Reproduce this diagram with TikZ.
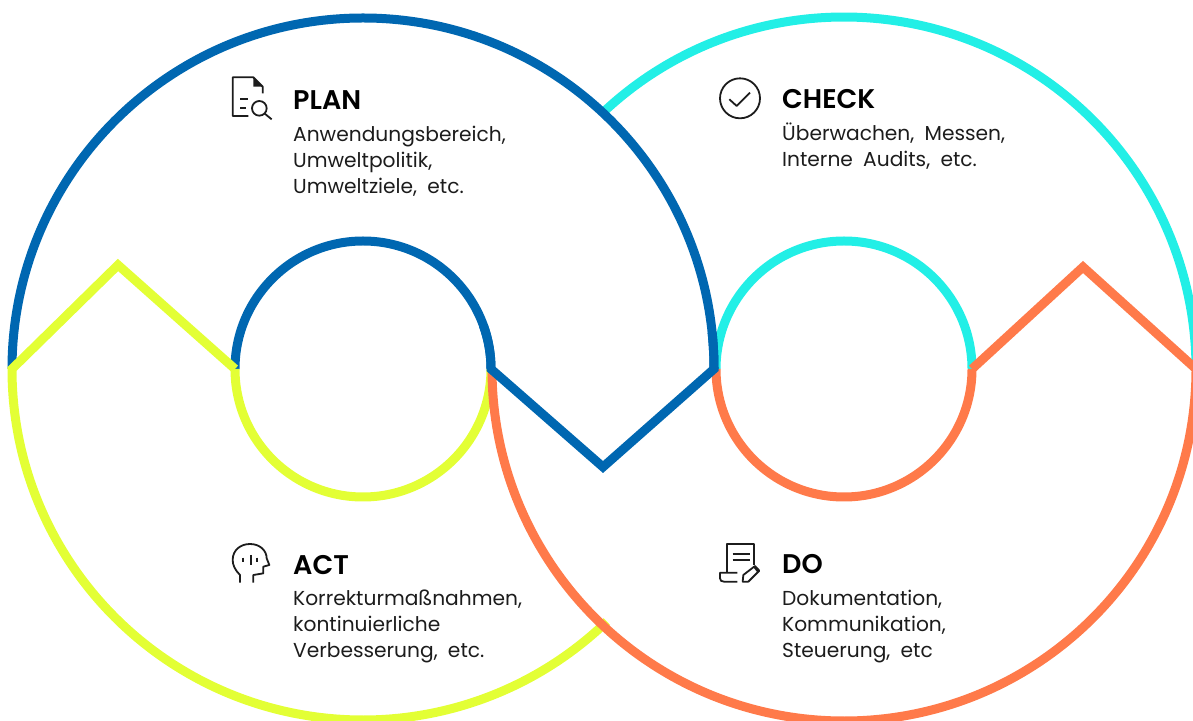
\documentclass[tikz,border=0pt]{standalone}
\usepackage{fontspec}
\setmainfont{Poppins}[BoldFont = {* SemiBold}, WordSpace = 1.9]

\definecolor{planblue}{HTML}{0067B1}
\definecolor{checkcyan}{HTML}{22EFE6}
\definecolor{actyellow}{HTML}{E3FF35}
\definecolor{doorange}{HTML}{FF7A4A}
\definecolor{inktext}{HTML}{1C1C1C}

\tikzset{
	ring/.style = {line width = 9 pt, miter limit = 10},
	icon/.style = {line width = 1.8 pt, inktext, line join = round},
	headtext/.style = {anchor = base west, inner sep = 0 pt, text = black, font = \fontsize{27}{27}\selectfont\bfseries},
	bodytext/.style = {anchor = base west, inner sep = 0 pt, text = inktext, align = left, font = \fontsize{20.2}{26}\selectfont}
}

\begin{document}
\begin{tikzpicture}[x = 1 pt, y = 1 pt]

	\useasboundingbox (0, 0) rectangle (1193, 720);

	% Check ring

	\draw [ring, checkcyan] (844, 351) ++ (133.5 : 352) arc (133.5 : 0 : 352);
	\draw [ring, checkcyan] (716, 351) arc (180 : 0 : 128);

	% Plan ring

	\draw [ring, planblue] (12, 351) arc (180 : 0 : 351);
	\draw [ring, planblue] (491, 351) arc (0 : 180 : 128);

	% Act ring

	\draw [ring, actyellow] (235, 351) -- (118, 455) -- (12, 351) arc (180 : 314 : 351);
	\draw [ring, actyellow] (235, 351) arc (180 : 360 : 128);

	% Do ring

	\draw [ring, doorange] (972, 351) -- (1083, 453) -- (1196, 351) arc (0 : -180 : 352);
	\draw [ring, doorange] (972, 351) arc (0 : -180 : 128);

	% Plan zigzag on top

	\draw [ring, planblue] (363, 351) ++ (6 : 351) arc (6 : 0 : 351) -- (603, 253) -- (491, 351) arc (0 : 20 : 128);

	% Plan label

	\begin{scope}[shift = {(210, 660)}, x = 0.3333 pt, y = -0.3333 pt]
		\draw [icon] (115, 168) -- (68, 168) -- (68, 52) -- (130, 52) -- (158, 80) -- (158, 100);
		\fill [inktext] (130, 52) -- (158, 80) -- (130, 80) -- cycle;
		\draw [icon] (90, 118) -- (115, 118) (90, 145) -- (108, 145);
		\draw [icon] (148, 145) circle (22);
		\draw [icon] (163, 160) -- (185, 178);
	\end{scope}
	\node [headtext] (plantitle) at (293, 610.5) {PLAN};
	\node [bodytext] (plantext) at (293, 526) {Anwendungsbereich,\\Umweltpolitik,\\Umweltziele, etc.};

	% Check label

	\begin{scope}[shift = {(700, 660)}, x = 0.3333 pt, y = -0.3333 pt]
		\draw [icon] (120, 115) circle (60);
		\draw [icon] (88, 118) -- (110, 138) -- (150, 98);
	\end{scope}
	\node [headtext] (checktitle) at (782, 611.5) {CHECK};
	\node [bodytext] (checktext) at (782, 553) {Überwachen, Messen,\\Interne Audits, etc.};

	% Act label

	\begin{scope}[shift = {(210, 190)}, x = 0.3333 pt, y = -0.3333 pt]
		\draw [icon] (90, 158) -- (90, 135) .. controls (75, 120) and (68, 105) .. (68, 90)
			.. controls (68, 60) and (92, 42) .. (120, 42)
			.. controls (150, 42) and (170, 62) .. (170, 85) -- (178, 105) -- (160, 110) -- (160, 130) -- (130, 135) -- (130, 158);
		\draw [icon] (100, 83) -- (100, 95) (122, 75) -- (122, 105) (142, 83) -- (142, 95);
	\end{scope}
	\node [headtext] (acttitle) at (293, 145.5) {ACT};
	\node [bodytext] (acttext) at (293, 63) {Korrekturmaßnahmen,\\kontinuierliche\\Verbesserung, etc.};

	% Do label

	\begin{scope}[shift = {(700, 190)}, x = 0.3333 pt, y = -0.3333 pt]
		\draw [icon] (82, 125) -- (82, 42) -- (162, 42) -- (162, 105);
		\draw [icon] (98, 72) -- (150, 72) (98, 90) -- (150, 90);
		\draw [icon] (112, 128) -- (60, 128) -- (60, 145) .. controls (60, 152) and (65, 155) .. (72, 155) -- (112, 155);
		\draw [icon] (128, 155) -- (130, 135) -- (165, 108) -- (178, 122) -- (145, 155) -- cycle;
		\fill [inktext] (160, 112) -- (165, 108) -- (178, 122) -- (172, 127) -- cycle;
	\end{scope}
	\node [headtext] (dotitle) at (782, 146.5) {DO};
	\node [bodytext] (dotext) at (782, 63) {Dokumentation,\\Kommunikation,\\Steuerung, etc};

\end{tikzpicture}
\end{document}
